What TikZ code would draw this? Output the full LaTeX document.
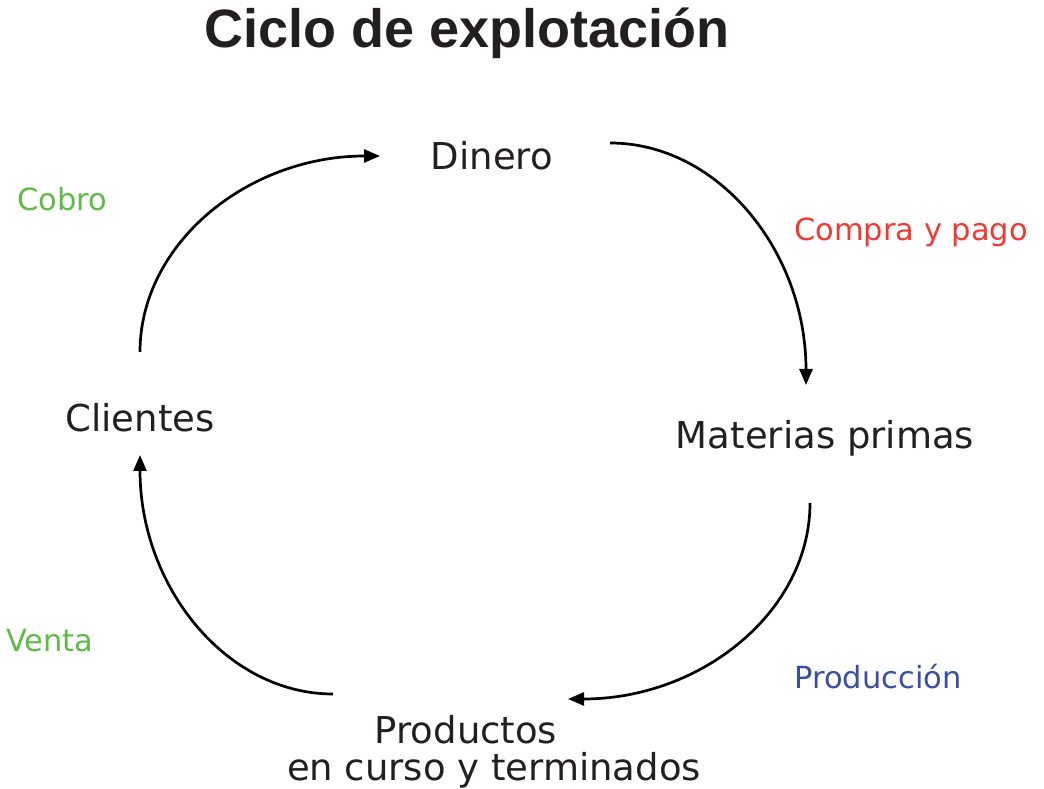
\documentclass[tikz,border=0pt]{standalone}
\usepackage{fontspec}
\setmainfont{DejaVu Sans}
\newfontfamily\titlefont{Liberation Sans}
\usetikzlibrary{arrows.meta}
\definecolor{txt}{HTML}{231F20}
\definecolor{cgreen}{HTML}{5DBB46}
\definecolor{cred}{HTML}{EE3A33}
\definecolor{cblue}{HTML}{3A4FA0}
\begin{document}
\begin{tikzpicture}[x=1pt,y=1pt,
  main/.style={font=\fontsize{37}{42}\selectfont, text=txt, inner sep=0pt},
  lbl/.style={font=\fontsize{30.5}{34}\selectfont, inner sep=0pt},
  flow/.style={line width=2.7pt, -{Triangle[length=16pt,width=13pt]}}]
\useasboundingbox (0,0) rectangle (1044,789);
\node[font=\titlefont\bfseries\fontsize{54}{58}\selectfont, text=txt, inner sep=0pt] (title) at (467,756) {Ciclo de explotación};
\node[main] (din) at (492,633) {Dinero};
\node[main] (mat) at (825,351) {Materias primas};
\node[main] (cli) at (140,371) {Clientes};
\node[main] (prod) at (466,59) {Productos};
\node[main] (prod2) at (494,19) {en curso y terminados};
\node[lbl, text=cgreen] (cobro) at (62,590) {Cobro};
\node[lbl, text=cred] (compra) at (911,557) {Compra y pago};
\node[lbl, text=cgreen] (venta) at (50,148) {Venta};
\node[lbl, text=cblue] (produccion) at (878,112) {Producción};
\coordinate (a1) at (140,437);
\coordinate (a2) at (610,646);
\coordinate (a3) at (810,286);
\coordinate (a4) at (333,95);
\draw[flow] (a1) arc[start angle=180, end angle=90, x radius=240, y radius=196];
\draw[flow] (a2) arc[start angle=90, end angle=0, x radius=196, y radius=242];
\draw[flow] (a3) arc[start angle=0, end angle=-90, x radius=242, y radius=196];
\draw[flow] (a4) arc[start angle=-90, end angle=-180, x radius=193, y radius=239];
\end{tikzpicture}
\end{document}
